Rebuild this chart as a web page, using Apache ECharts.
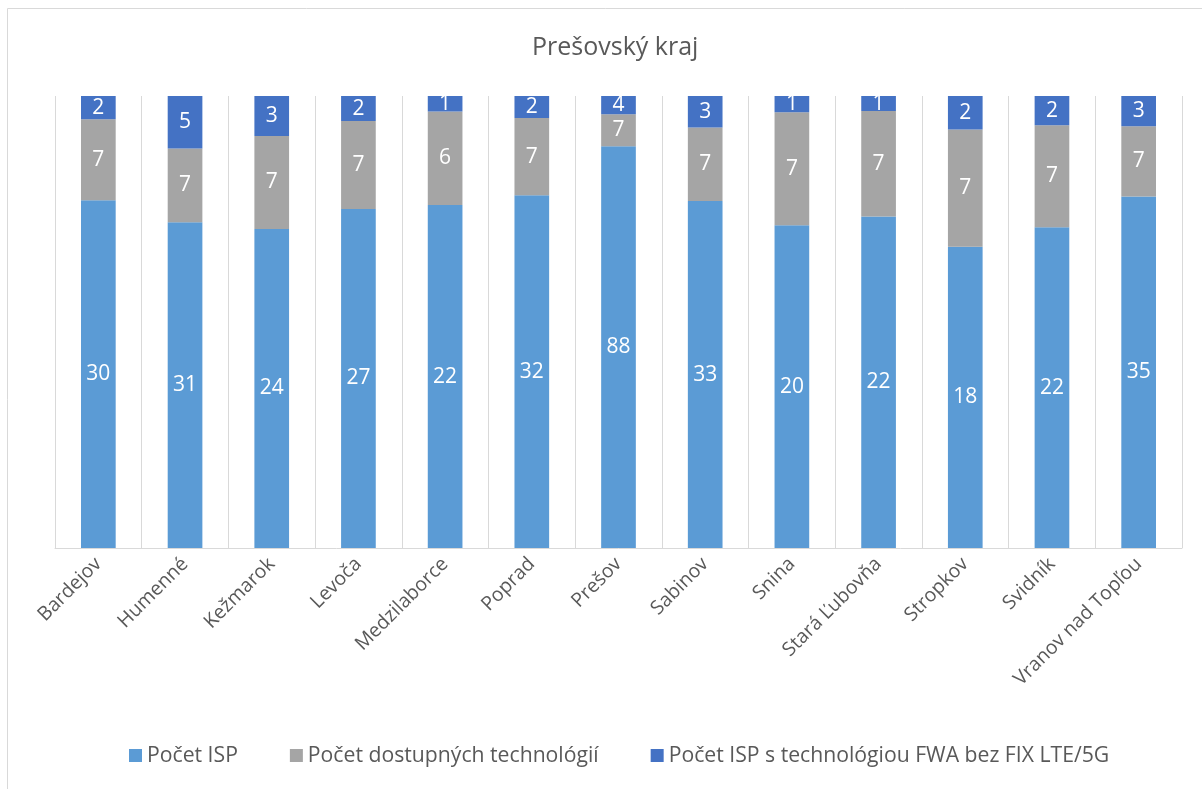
<!DOCTYPE html>
<html><head><meta charset="utf-8">
<script src="https://cdn.jsdelivr.net/npm/echarts@6/dist/echarts.min.js"></script>
<style>html,body{margin:0;padding:0;background:#fff}#c{width:1202px;height:789px}</style>
</head><body><div id="c"></div>
<script>
const categories = ['Bardejov','Humenné','Kežmarok','Levoča','Medzilaborce','Poprad','Prešov','Sabinov','Snina','Stará Ľubovňa','Stropkov','Svidník','Vranov nad Topľou'];
const pocetISP = [30,31,24,27,22,32,88,33,20,22,18,22,35];
const pocetTech = [7,7,7,7,6,7,7,7,7,7,7,7,7];
const pocetFWA = [2,5,3,2,1,2,4,3,1,1,2,2,3];
const seriesNames = ['Počet ISP','Počet dostupných technológií','Počet ISP s technológiou FWA bez FIX LTE/5G'];
const colors = ['#5B9BD5','#A5A5A5','#4472C4'];

const raw = [pocetISP, pocetTech, pocetFWA];
const totals = categories.map((_, i) => raw.reduce((s, a) => s + a[i], 0));
const FONT = 'Open Sans';

const chart = echarts.init(document.getElementById('c'), null, {renderer:'canvas'});
chart.setOption({
  animation:false,
  textStyle:{fontFamily:FONT},
  title:{text:'Prešovský kraj', left:527, top:30, textStyle:{fontFamily:FONT, fontSize:25, fontWeight:'normal', color:'#595959'}},
  graphic:[{type:'rect', shape:{x:7.5,y:8.5,width:1300,height:900}, style:{fill:'none', stroke:'#D9D9D9', lineWidth:1}, silent:true}],
  legend:{bottom:18, left:124, itemWidth:13, itemHeight:13, itemGap:52, icon:'rect',
    textStyle:{fontFamily:FONT, fontSize:21.2, color:'#595959'}, data:seriesNames},
  grid:{left:55, right:20, top:96, bottom:241, containLabel:false},
  xAxis:{type:'category', data:categories, boundaryGap:true,
    axisLine:{lineStyle:{color:'#D9D9D9', width:1}},
    axisTick:{show:false},
    splitLine:{show:true, lineStyle:{color:'#D9D9D9', width:1}},
    axisLabel:{interval:0, rotate:45, fontFamily:FONT, fontSize:19.5, color:'#595959', margin:13}},
  yAxis:{type:'value', min:0, max:100, show:false, splitLine:{show:false}},
  series: raw.map((arr, k) => ({
    name:seriesNames[k], type:'bar', stack:'total', barWidth:'40%',
    itemStyle:{color:colors[k]},
    data: arr.map((v, i) => ({value: v / totals[i] * 100, raw: v})),
    label:{show:true, position:'inside', color:'#fff', fontFamily:FONT, fontSize:21,
      formatter: p => p.data.raw}
  }))
});
</script></body></html>
